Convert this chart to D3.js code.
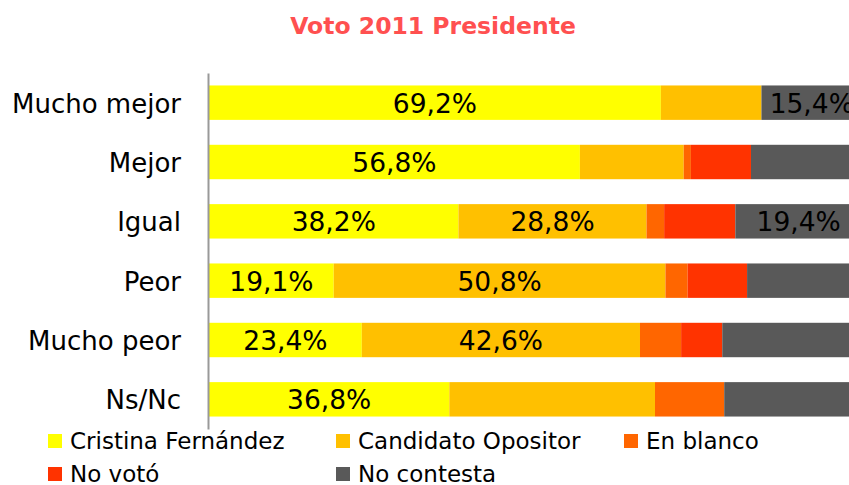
<!DOCTYPE html>
<html>
<head>
<meta charset="utf-8">
<script src="https://cdn.jsdelivr.net/npm/d3@7"></script>
<style>
  body { margin: 0; background: #fff; }
  text { font-family: "DejaVu Sans", sans-serif; }
</style>
</head>
<body>
<div class="canvas"></div>
<script>
// data
const categories = ['Mucho mejor', 'Mejor', 'Igual', 'Peor', 'Mucho peor', 'Ns/Nc'];
const seriesNames = ['Cristina Fernández', 'Candidato Opositor', 'En blanco', 'No votó', 'No contesta'];
const cristina = [69.2, 56.8, 38.2, 19.1, 23.4, 36.8];
const opositor = [15.4, 15.9, 28.8, 50.8, 42.6, 31.5];
const enBlanco = [0, 1.1, 2.7, 3.4, 6.3, 10.6];
const noVoto = [0, 9.2, 10.9, 9.1, 6.3, 0];
const noContesta = [15.4, 17.0, 19.4, 17.6, 21.4, 21.1];
// which segments carry a value label (category index, series index)
const labelled = [[0, 0], [0, 4], [1, 0], [2, 0], [2, 1], [2, 4], [3, 0], [3, 1], [4, 0], [4, 1], [5, 0]];

const colors = ['#ffff00', '#ffc000', '#ff6600', '#ff3300', '#595959'];

const width = 849;
const height = 485;

const svg = d3.select('.canvas')
    .append('svg')
    .attr('width', width)
    .attr('height', height);

// build rows for stacking
const rows = categories.map((c, i) => ({
    cat: c,
    s0: cristina[i], s1: opositor[i], s2: enBlanco[i], s3: noVoto[i], s4: noContesta[i]
}));
const keys = ['s0', 's1', 's2', 's3', 's4'];
const stacked = d3.stack().keys(keys)(rows);

//scales (the plot runs past the right edge, as in the original)
const x = d3.scaleLinear().domain([0, 100]).range([209, 862]);
const y = d3.scaleBand().domain(categories).range([73, 429])
    .paddingInner(0.42).paddingOuter(0.21);

// title
svg.append('text')
    .attr('x', 433)
    .attr('y', 34)
    .attr('text-anchor', 'middle')
    .attr('font-size', 23.5)
    .attr('font-weight', 'bold')
    .attr('fill', '#ff5050')
    .text('Voto 2011 Presidente');

// bars
const layers = svg.append('g')
    .selectAll('g')
    .data(stacked)
    .enter()
    .append('g')
    .attr('fill', (d, i) => colors[i]);

layers.selectAll('rect')
    .data(d => d)
    .enter()
    .append('rect')
    .attr('x', d => x(d[0]))
    .attr('y', d => y(d.data.cat))
    .attr('width', d => x(d[1]) - x(d[0]))
    .attr('height', y.bandwidth());

// value labels
svg.append('g')
    .selectAll('text')
    .data(labelled)
    .enter()
    .append('text')
    .attr('x', d => {
        const seg = stacked[d[1]][d[0]];
        return (x(seg[0]) + x(seg[1])) / 2;
    })
    .attr('y', d => y(categories[d[0]]) + y.bandwidth() / 2)
    .attr('dy', '0.38em')
    .attr('text-anchor', 'middle')
    .attr('font-size', 26.5)
    .attr('fill', '#000')
    .text(d => d3.format('.1f')(stacked[d[1]][d[0]].data[keys[d[1]]]).replace('.', ',') + '%');

// y axis
const yAxis = d3.axisLeft(y).tickSize(0).tickPadding(27);
const yAxisGroup = svg.append('g')
    .attr('transform', 'translate(208,0)')
    .call(yAxis);
yAxisGroup.select('.domain')
    .attr('stroke', '#999')
    .attr('stroke-width', 2);
yAxisGroup.selectAll('text')
    .attr('font-family', '"DejaVu Sans", sans-serif')
    .attr('font-size', 26)
    .attr('dy', '0.38em')
    .attr('fill', '#000');

// legend
const legendPos = [[48, 441], [336, 441], [624, 441], [48, 474], [336, 474]];
const legend = svg.append('g')
    .selectAll('g')
    .data(seriesNames)
    .enter()
    .append('g')
    .attr('transform', (d, i) => `translate(${legendPos[i][0]},${legendPos[i][1]})`);

legend.append('rect')
    .attr('x', 0)
    .attr('y', -7)
    .attr('width', 14)
    .attr('height', 14)
    .attr('fill', (d, i) => colors[i]);

legend.append('text')
    .attr('x', 22)
    .attr('y', 0)
    .attr('dy', '0.36em')
    .attr('font-size', 23)
    .attr('fill', '#000')
    .text(d => d);
</script>
</body>
</html>
